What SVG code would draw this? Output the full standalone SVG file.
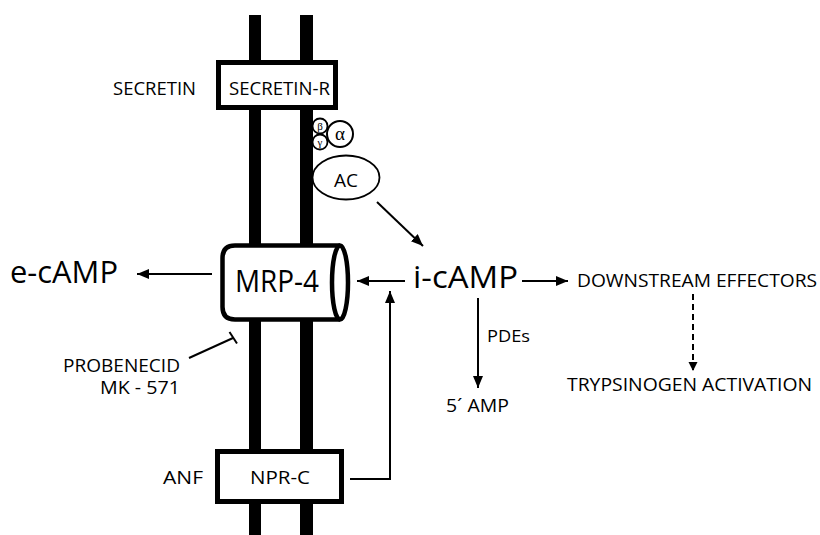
<svg xmlns="http://www.w3.org/2000/svg" width="820" height="535" viewBox="0 0 820 535">
  <defs>
    <style>
      text { font-family: "Open Sans", "Noto Sans", "Liberation Sans", sans-serif; fill: #000; }
      .lbl { font-size: 18px; }
      .big { font-size: 31px; }
      .greek { font-family: "Liberation Serif", "DejaVu Serif", serif; }
      .box { fill: #fff; stroke: #000; stroke-width: 5; }
      .bar { fill: #000; }
      .conn { stroke: #000; stroke-width: 2; fill: none; }
      .thin { fill: #fff; stroke: #000; stroke-width: 1.8; }
    </style>
    <marker id="ah" markerUnits="userSpaceOnUse" markerWidth="14" markerHeight="12" refX="12" refY="5" orient="auto">
      <path d="M0,0 L12,5 L0,10 Z" fill="#000"/>
    </marker>
    <marker id="ahs" markerUnits="userSpaceOnUse" markerWidth="12" markerHeight="10" refX="9" refY="4.5" orient="auto">
      <path d="M0,0 L9,4.5 L0,9 Z" fill="#000"/>
    </marker>
  </defs>

  <g id="membrane">
    <rect class="bar" x="249" y="15" width="12" height="520"/>
    <rect class="bar" x="300" y="15" width="13" height="520"/>
  </g>

  <g id="secretin">
    <text class="lbl" x="113" y="95" textLength="83" lengthAdjust="spacingAndGlyphs">SECRETIN</text>
  </g>

  <g id="secretin-r">
    <rect class="box" x="218.5" y="62.5" width="117" height="45"/>
    <text class="lbl" x="229" y="95" textLength="101" lengthAdjust="spacingAndGlyphs">SECRETIN-R</text>
  </g>

  <g id="g-protein">
    <circle class="thin" cx="320" cy="126" r="7.5"/>
    <circle class="thin" cx="320" cy="142" r="7.5"/>
    <circle class="thin" cx="340" cy="134" r="13" style="stroke-width:2"/>
    <text class="greek" x="320" y="130" font-size="11" text-anchor="middle">β</text>
    <text class="greek" x="320" y="146" font-size="11" text-anchor="middle">γ</text>
    <text class="greek" x="340" y="140" font-size="19" text-anchor="middle">α</text>
  </g>

  <g id="ac">
    <ellipse class="thin" cx="346" cy="177.5" rx="33.5" ry="22" style="stroke-width:1.8"/>
    <rect class="bar" x="300" y="150" width="13" height="55"/>
    <text x="346" y="187" font-size="19" text-anchor="middle">AC</text>
  </g>

  <g id="mrp4">
    <path class="box" d="M340,245.5 L235,245.5 Q222.5,245.5 222.5,258 L222.5,307 Q222.5,319.5 235,319.5 L340,319.5" style="stroke-width:4.5"/>
    <ellipse class="box" cx="340" cy="282.5" rx="8" ry="37" style="stroke-width:4.5"/>
    <text class="big" x="235" y="292" textLength="84" lengthAdjust="spacingAndGlyphs">MRP-4</text>
  </g>

  <g id="e-camp">
    <text class="big" x="10" y="283" textLength="108" lengthAdjust="spacingAndGlyphs">e-cAMP</text>
  </g>

  <g id="i-camp">
    <text class="big" x="413" y="288" font-size="33" textLength="105" lengthAdjust="spacingAndGlyphs">i-cAMP</text>
  </g>

  <g id="probenecid">
    <text class="lbl" x="180" y="372" text-anchor="end" textLength="117" lengthAdjust="spacingAndGlyphs">PROBENECID</text>
    <text class="lbl" x="180" y="394" text-anchor="end" textLength="80" lengthAdjust="spacingAndGlyphs">MK - 571</text>
  </g>

  <g id="downstream">
    <text class="lbl" x="577" y="287" textLength="240" lengthAdjust="spacingAndGlyphs">DOWNSTREAM EFFECTORS</text>
  </g>

  <g id="trypsinogen">
    <text class="lbl" x="567" y="391" textLength="245" lengthAdjust="spacingAndGlyphs">TRYPSINOGEN ACTIVATION</text>
  </g>

  <g id="amp5">
    <text class="lbl" x="446" y="412" textLength="63" lengthAdjust="spacingAndGlyphs">5´ AMP</text>
  </g>

  <g id="pdes-label">
    <text x="487" y="342" font-size="17" textLength="43" lengthAdjust="spacingAndGlyphs">PDEs</text>
  </g>

  <g id="anf">
    <text class="lbl" x="163" y="484" textLength="40" lengthAdjust="spacingAndGlyphs">ANF</text>
  </g>

  <g id="npr-c">
    <rect class="box" x="217.5" y="451.5" width="124" height="50"/>
    <text class="lbl" x="250" y="484" textLength="60" lengthAdjust="spacingAndGlyphs">NPR-C</text>
  </g>

  <g id="connectors">
    <line class="conn" x1="212" y1="274" x2="137" y2="274" marker-end="url(#ah)"/>
    <line class="conn" x1="377" y1="202" x2="423" y2="246" marker-end="url(#ah)"/>
    <line class="conn" x1="405" y1="281" x2="357" y2="281" marker-end="url(#ah)"/>
    <line class="conn" x1="522" y1="281" x2="568" y2="281" marker-end="url(#ah)"/>
    <line class="conn" x1="478" y1="298" x2="478" y2="388" marker-end="url(#ah)"/>
    <line class="conn" x1="693" y1="294" x2="693" y2="371" stroke-dasharray="6,4" marker-end="url(#ahs)"/>
    <polyline class="conn" points="350,479 390,479 390,291" marker-end="url(#ah)"/>
    <line class="conn" x1="189" y1="358" x2="233" y2="338"/>
    <line class="conn" x1="229.5" y1="332" x2="237" y2="343.5"/>
  </g>
</svg>
